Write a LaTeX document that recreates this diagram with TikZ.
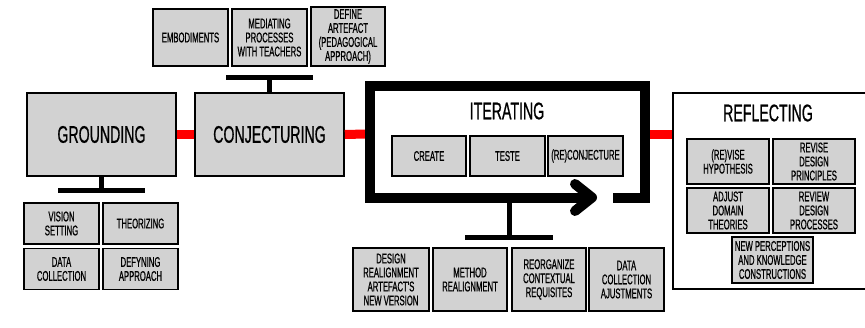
\documentclass[tikz,border=0pt]{standalone}
\usepackage{fontspec}
\setmainfont[FakeStretch=0.59,FakeBold=0.7]{Liberation Sans}
\newfontfamily\subfont[FakeStretch=0.55,FakeBold=0.7]{Liberation Sans}
\usetikzlibrary{positioning}

\begin{document}
\begin{tikzpicture}[x=1pt,y=-1pt,
        phasebox/.style={rectangle,draw,line width=1.6pt,fill=gray!35,inner sep=0pt,
            minimum width=149pt,minimum height=83pt,font=\fontsize{24}{26}\selectfont},
        subbox/.style={rectangle,draw,line width=1.6pt,fill=gray!35,inner sep=0pt,
            minimum width=75pt,align=center,font=\subfont\fontsize{14}{14}\selectfont},
        titletext/.style={font=\fontsize{24}{26}\selectfont},
        redlink/.style={red,line width=9pt},
        tbar/.style={line width=5pt},
        frameline/.style={line width=10pt}]
            \useasboundingbox (0,0) rectangle (865,327);

            % grounding
            \node [phasebox] (Ground) at (101.5,134.5) {GROUNDING};
            \node [subbox,minimum height=41pt] (Vision) at (61.5,223.5) {VISION\\SETTING};
            \node [subbox,minimum height=41pt] (Theory) at (140.5,223.5) {THEORIZING};
            \node [subbox,minimum height=41pt] (DataG) at (61.5,269) {DATA\\COLLECTION};
            \node [subbox,minimum height=41pt] (Approach) at (140.5,269) {DEFYNING\\APPROACH};
            \coordinate (gT) at (Ground.south |- 0,190.5);

            % conjecturing
            \node [phasebox] (Conj) at (269.5,134.5) {CONJECTURING};
            \node [subbox,minimum height=57pt] (Embod) at (190.5,37.5) {EMBODIMENTS};
            \node [subbox,minimum height=57pt] (Mediate) at (269.5,37.5) {MEDIATING\\PROCESSES\\WITH TEACHERS};
            \node [subbox,minimum height=59pt,minimum width=74pt] (Define) at (348,36.5) {DEFINE\\ARTEFACT\\(PEDAGOGICAL\\APPROACH)};
            \coordinate (cT) at (Conj.north |- 0,77.5);

            % iterating
            \coordinate (itL) at (366,134);
            \coordinate (itR) at (650,134);
            \node [titletext] (Iter) at (507,111) {ITERATING};
            \node [subbox,minimum height=40pt,minimum width=74pt] (Create) at (429,156) {CREATE};
            \node [subbox,minimum height=40pt] (Teste) at (507.5,156) {TESTE};
            \node [subbox,minimum height=40pt] (Reconj) at (585.5,156) {(RE)CONJECTURE};
            \node [subbox,minimum height=63pt,minimum width=76pt] (Realign) at (391,279.5) {DESIGN\\REALIGNMENT\\ARTEFACT'S\\NEW VERSION};
            \node [subbox,minimum height=63pt,minimum width=74pt] (Method) at (470,279.5) {METHOD\\REALIGNMENT};
            \node [subbox,minimum height=63pt,minimum width=74pt] (Reorg) at (549,279.5) {REORGANIZE\\CONTEXTUAL\\REQUISITES};
            \node [subbox,minimum height=63pt] (Adjust) at (626.5,279.5) {DATA\\COLLECTION\\AJUSTMENTS};
            \coordinate (iStem) at (509,202);
            \coordinate (iT) at (509,237);

            % reflecting
            \node [rectangle,draw,line width=2pt,minimum width=210pt,minimum height=196pt,inner sep=0pt] (Reflect) at (778,191) {};
            \node [titletext] (RefTitle) at (768,113) {REFLECTING};
            \node [subbox,minimum height=45pt,minimum width=82pt] (Hypo) at (728,161.5) {(RE)VISE\\HYPOTHESIS};
            \node [subbox,minimum height=45pt,minimum width=82pt] (Princ) at (814,161.5) {REVISE\\DESIGN\\PRINCIPLES};
            \node [subbox,minimum height=45pt,minimum width=82pt] (Domain) at (728,210.5) {ADJUST\\DOMAIN\\THEORIES};
            \node [subbox,minimum height=45pt,minimum width=82pt] (Review) at (814,210.5) {REVIEW\\DESIGN\\PROCESSES};
            \node [subbox,minimum height=46pt,minimum width=81pt] (Percept) at (772.5,260) {NEW PERCEPTIONS\\AND KNOWLEDGE\\CONSTRUCTIONS};

            % links between phases
            \draw [redlink] (Ground.east) -- (Conj.west);
            \draw [redlink] (Conj.east) -- (itL);
            \draw [redlink] (itR) -- (Reflect.west |- itR);

            % iterating frame with arrow
            \draw [frameline] (592,197.5) -- (370,197.5) -- (370,86) -- (645,86) -- (645,197.5) -- (613,197.5);
            \draw [frameline,line cap=round,line join=round] (575,184) -- (592,197.5) -- (575,211);

            % T connectors
            \draw [tbar] (Ground.south) -- (gT);
            \draw [tbar] ([xshift=-43.5pt]gT) -- ([xshift=43.5pt]gT);
            \draw [tbar] (Conj.north) -- (cT);
            \draw [tbar] ([xshift=-43.5pt]cT) -- ([xshift=43.5pt]cT);
            \draw [tbar] (iStem) -- (iT);
            \draw [tbar] ([xshift=-44pt]iT) -- ([xshift=44pt]iT);
        \end{tikzpicture}
\end{document}
